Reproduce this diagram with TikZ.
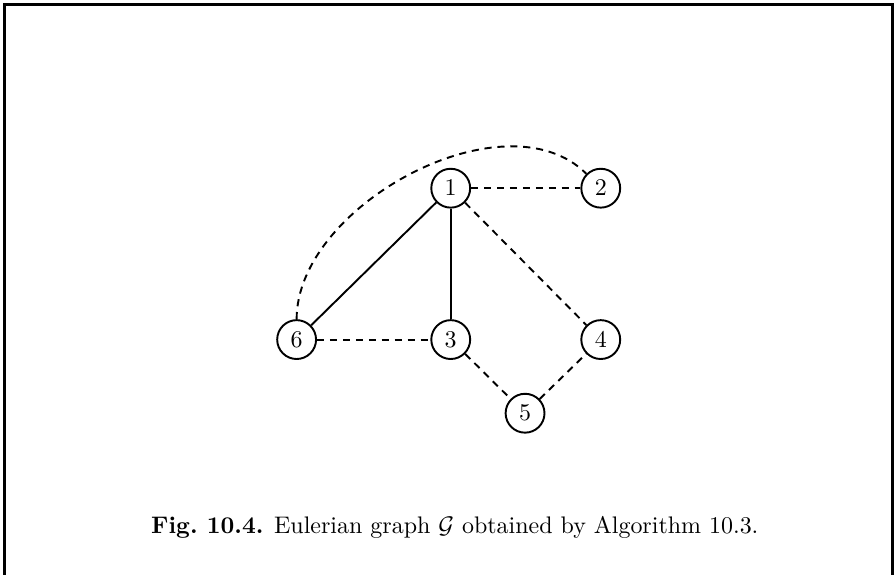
\documentclass[tikz,border=0pt]{standalone}
\usepackage{amsmath, amssymb, amsfonts}
\usepackage{xcolor}
\usepackage{tikz}
\usetikzlibrary{calc, arrows.meta}

\begin{document}
\begin{tikzpicture}[>=stealth,
    vertex/.style={draw, circle, line width=0.8pt, minimum size=0.57cm, inner sep=0pt},
    walk/.style={line width=0.8pt},
    added/.style={line width=0.8pt, dash pattern=on 3pt off 2.4pt}]
    \useasboundingbox (0,0) rectangle (13.14,8.43);
    \draw[line width=1.2pt] (0.066,-0.5) -- (0.066,8.37) -- (13.09,8.37) -- (13.09,-0.5);
    \node[vertex] (v1) at (6.61,5.67) {$1$};
    \node[vertex] (v2) at (8.81,5.67) {$2$};
    \node[vertex] (v6) at (4.35,3.45) {$6$};
    \node[vertex] (v3) at (6.61,3.45) {$3$};
    \node[vertex] (v4) at (8.81,3.45) {$4$};
    \node[vertex] (v5) at (7.70,2.37) {$5$};
    \draw[walk] (v1) -- (v6);
    \draw[walk] (v1) -- (v3);
    \draw[added] (v1) -- (v2);
    \draw[added] (v1) -- (v4);
    \draw[added] (v6) -- (v3);
    \draw[added] (v3) -- (v5);
    \draw[added] (v5) -- (v4);
    \draw[added] (v6.north) to[out=90, in=135, looseness=0.9] (v2.north west);
    \node (caption) at (6.67,0.69) {\textbf{Fig.\ 10.4.} Eulerian graph $\mathcal{G}$ obtained by Algorithm 10.3.};
\end{tikzpicture}
\end{document}
